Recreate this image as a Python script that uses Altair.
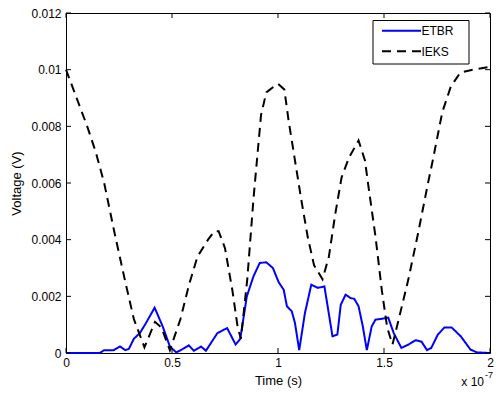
import altair as alt
import pandas as pd

# ---- data (time in units of 1e-7 s, voltage in V) ----
etbr_t = [0.00, 0.16, 0.18, 0.225, 0.255, 0.28, 0.297, 0.32, 0.348, 0.376, 0.418,
          0.456, 0.49, 0.52, 0.553, 0.579, 0.603, 0.637, 0.66, 0.714, 0.76, 0.80,
          0.822, 0.853, 0.884, 0.914, 0.945, 0.976, 1.003, 1.027, 1.042, 1.065,
          1.08, 1.10, 1.127, 1.157, 1.188, 1.219, 1.257, 1.28, 1.296, 1.319, 1.342,
          1.36, 1.38, 1.40, 1.419, 1.442, 1.46, 1.485, 1.52, 1.546, 1.582, 1.616,
          1.649, 1.677, 1.703, 1.723, 1.754, 1.785, 1.819, 1.862, 1.908, 1.939, 2.00]
etbr_v = [0.0, 0.0, 0.0001, 0.0001, 0.00023, 0.0001, 0.00015, 0.0005, 0.0007, 0.00104, 0.0016,
          0.00094, 0.00023, 0.00002, 0.00015, 0.00027, 0.00008, 0.00023, 0.00008, 0.0007, 0.00088, 0.0003,
          0.0005, 0.0020, 0.0027, 0.00318, 0.0032, 0.0030, 0.0025, 0.00223, 0.00165, 0.00147,
          0.00106, 0.0001, 0.00141, 0.00241, 0.0023, 0.00235, 0.00059, 0.00065, 0.0017, 0.00206, 0.00194,
          0.00191, 0.00165, 0.00094, 0.0001, 0.00094, 0.00118, 0.0012, 0.00125, 0.0007, 0.00018, 0.0003,
          0.00045, 0.0004, 0.0001, 0.00018, 0.00065, 0.0009, 0.0009, 0.00059, 0.00012, 0.00002, 0.0]

ieks_t = [0.00, 0.05, 0.10, 0.14, 0.18, 0.23, 0.28, 0.32, 0.37, 0.42, 0.45, 0.49,
          0.54, 0.58, 0.62, 0.67, 0.70, 0.72, 0.75, 0.785, 0.81, 0.825, 0.855, 0.885,
          0.92, 0.945, 0.98, 1.00, 1.03, 1.05, 1.08, 1.11, 1.14, 1.17, 1.21, 1.24,
          1.27, 1.30, 1.335, 1.38, 1.41, 1.43, 1.46, 1.49, 1.515, 1.54, 1.56, 1.615,
          1.66, 1.705, 1.73, 1.775, 1.815, 1.86, 1.92, 2.00]
ieks_v = [0.0100, 0.0090, 0.0080, 0.0071, 0.0060, 0.0042, 0.0025, 0.0012, 0.0002, 0.0011, 0.0009, 0.0001,
          0.0012, 0.0024, 0.0034, 0.0040, 0.0043, 0.0043, 0.0037, 0.0022, 0.0009, 0.0005, 0.0026, 0.0055,
          0.0084, 0.0092, 0.0094, 0.0095, 0.0093, 0.0082, 0.0068, 0.0054, 0.0041, 0.0031, 0.0026, 0.0034,
          0.0049, 0.0062, 0.0069, 0.0075, 0.0068, 0.0057, 0.0041, 0.0022, 0.0009, 0.0003, 0.0009, 0.0026,
          0.0042, 0.0059, 0.0068, 0.0085, 0.0094, 0.0099, 0.0100, 0.0101]

series_names = ["ETBR", "IEKS"]
series_colors = ["#0000ff", "#000000"]
series_dashes = [[1, 0], [9, 6]]
x_ticks = [0, 0.5, 1, 1.5, 2]
y_ticks = [0, 0.002, 0.004, 0.006, 0.008, 0.01, 0.012]
x_title = "Time (s)"
y_title = "Voltage (V)"
exp_base = ["x 10"]
exp_power = ["-7"]

W, H = 424, 340
FONT = "Liberation Sans"

df = pd.concat([
    pd.DataFrame({"t": etbr_t, "v": etbr_v, "series": series_names[0]}),
    pd.DataFrame({"t": ieks_t, "v": ieks_v, "series": series_names[1]}),
], ignore_index=True)

xs = alt.Scale(domain=[0, 2], nice=False, zero=False)
ys = alt.Scale(domain=[0, 0.012], nice=False, zero=False)
cs = alt.Scale(domain=series_names, range=series_colors)
ds = alt.Scale(domain=series_names, range=series_dashes)

x_axis = alt.Axis(
    values=x_ticks, format="~g", title=x_title, ticks=False, domain=False, grid=False,
    labelFlush=False, labelOverlap=False,
    labelPadding=4, labelFontSize=12, labelFont=FONT, labelColor="black",
    titleFont=FONT, titleFontSize=13, titleFontWeight="normal", titleColor="black",
    titleX=W / 2, titleY=27, titleBaseline="middle", titleAlign="center")
y_axis = alt.Axis(
    values=y_ticks, format="~g", title=y_title, ticks=False, domain=False, grid=False,
    labelFlush=False, labelOverlap=False,
    labelPadding=5, labelFontSize=12, labelFont=FONT, labelColor="black",
    titleFont=FONT, titleFontSize=13, titleFontWeight="normal", titleColor="black",
    titleAngle=270, titleX=-50, titleY=H / 2, titleBaseline="middle", titleAlign="center")

lines = alt.Chart(df).mark_line(strokeWidth=2).encode(
    x=alt.X("t:Q", scale=xs, axis=x_axis),
    y=alt.Y("v:Q", scale=ys, axis=y_axis),
    color=alt.Color("series:N", scale=cs, legend=None),
    strokeDash=alt.StrokeDash("series:N", scale=ds, legend=None),
)

# ---- legend (MATLAB style box in the upper right) ----
LX0, LX1, LY0, LY1 = 307, 403, 7.5, 51
ROW_Y = [17.7, 38.3]
legend_box = alt.Chart(pd.DataFrame({"k": [0]})).mark_rect(
    fill="white", stroke="black", strokeWidth=1
).encode(x=alt.value(LX0), x2=alt.value(LX1), y=alt.value(LY0), y2=alt.value(LY1))

legend_layers = []
for name, ry in zip(series_names, ROW_Y):
    ld = pd.DataFrame({"series": [name]})
    legend_layers.append(alt.Chart(ld).mark_rule(strokeWidth=2).encode(
        x=alt.value(LX0 + 9), x2=alt.value(LX0 + 48), y=alt.value(ry),
        color=alt.Color("series:N", scale=cs, legend=None),
        strokeDash=alt.StrokeDash("series:N", scale=ds, legend=None)))
    legend_layers.append(alt.Chart(ld).mark_text(
        font=FONT, fontSize=12, color="black", align="left", baseline="middle"
    ).encode(text="series:N", x=alt.value(LX0 + 48.5), y=alt.value(ry + 0.5)))

xt = pd.DataFrame({"t": x_ticks})
yt = pd.DataFrame({"v": y_ticks})
TL = 5
bottom_ticks = alt.Chart(xt).mark_rule(color="black", strokeWidth=1).encode(
    x=alt.X("t:Q", scale=xs, axis=x_axis), y=alt.value(H), y2=alt.value(H - TL))
top_ticks = alt.Chart(xt).mark_rule(color="black", strokeWidth=1).encode(
    x=alt.X("t:Q", scale=xs, axis=x_axis), y=alt.value(0), y2=alt.value(TL))
left_ticks = alt.Chart(yt).mark_rule(color="black", strokeWidth=1).encode(
    y=alt.Y("v:Q", scale=ys, axis=y_axis), x=alt.value(0), x2=alt.value(TL))
right_ticks = alt.Chart(yt).mark_rule(color="black", strokeWidth=1).encode(
    y=alt.Y("v:Q", scale=ys, axis=y_axis), x=alt.value(W), x2=alt.value(W - TL))

base_txt = alt.Chart(pd.DataFrame({"s": exp_base})).mark_text(
    font=FONT, fontSize=12, color="black", align="right", baseline="middle"
).encode(text="s:N", x=alt.value(W - 6), y=alt.value(H + 29))
pow_txt = alt.Chart(pd.DataFrame({"s": exp_power})).mark_text(
    font=FONT, fontSize=9, color="black", align="left", baseline="middle"
).encode(text="s:N", x=alt.value(W - 5), y=alt.value(H + 22))

chart = alt.layer(lines, bottom_ticks, top_ticks, left_ticks, right_ticks, legend_box,
                  *legend_layers, base_txt, pow_txt).properties(
    width=W, height=H,
    background="white",
    autosize=alt.AutoSizeParams(type="none"),
    padding={"left": 58, "top": 5, "right": 4, "bottom": 35},
).configure_view(stroke="black", strokeWidth=1)

chart.save("out.html", embed_options={"renderer": "svg", "actions": False})
